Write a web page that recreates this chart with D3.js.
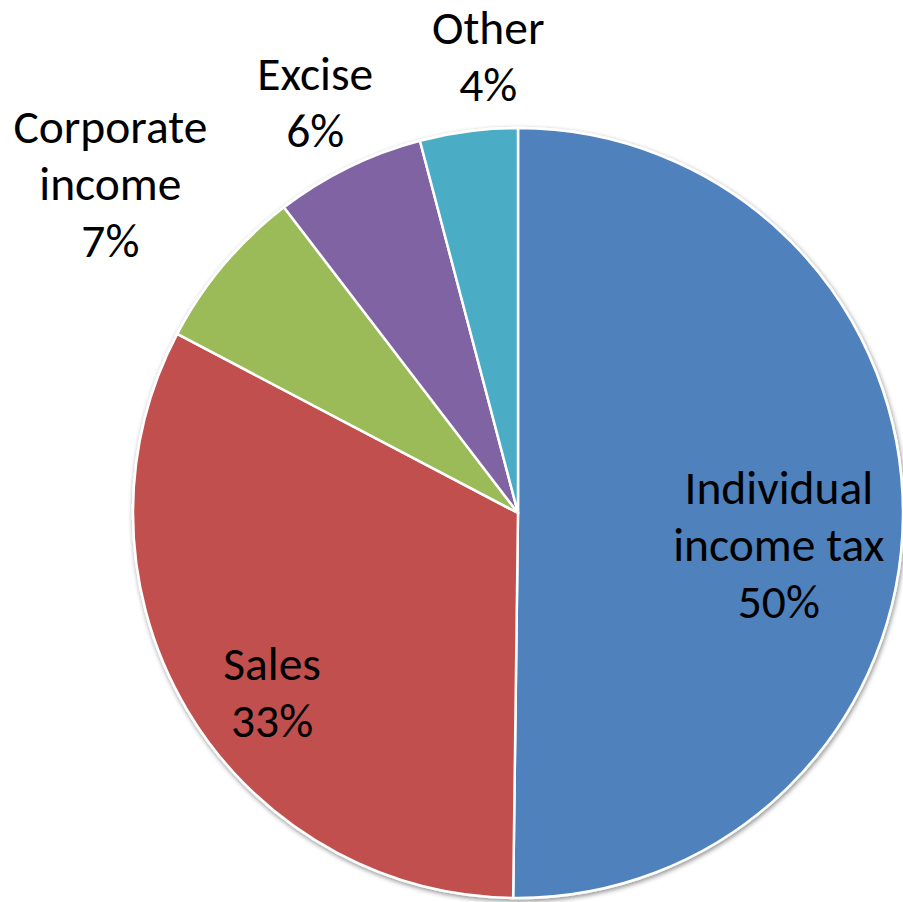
<!DOCTYPE html>
<meta charset="utf-8">
<script src="https://d3js.org/d3.v7.min.js"></script>
<style>
  body { margin: 0; background: #fff; }
  text { font-family: Carlito, Calibri, "Liberation Sans", sans-serif; fill: #000; }
</style>
<div id="chart"></div>
<script>

  // data
  var categories = ["Individual income tax", "Sales", "Corporate income", "Excise", "Other"];
  var labelLines = [["Individual", "income tax"], ["Sales"], ["Corporate", "income"], ["Excise"], ["Other"]];
  var values = [50.2, 32.5, 6.9, 6.3, 4.1];
  var colors = ["#4F81BD", "#C0504D", "#9BBB59", "#8064A2", "#4BACC6"];

  // layout
  var width = 903, height = 902;
  var cx = 518, cy = 513, radius = 385;
  var fontSize = 47.5, lineH = 57;

  // labels inside or outside, with small nudges
  var inside = [true, true, false, false, false];
  var nudge = {
    "Individual income tax": [-1, 30],
    "Sales": [-21, 46],
    "Corporate income": [-30, -19],
    "Excise": [0, -5],
    "Other": [28, -8]
  };

  var svg = d3.select("#chart").append("svg")
    .attr("width", width)
    .attr("height", height);

  var defs = svg.append("defs");
  var f = defs.append("filter").attr("id", "shadow")
    .attr("x", "-10%").attr("y", "-10%").attr("width", "120%").attr("height", "120%");
  f.append("feGaussianBlur").attr("in", "SourceAlpha").attr("stdDeviation", 2.5);
  f.append("feOffset").attr("dx", 1).attr("dy", 2).attr("result", "b");
  f.append("feComponentTransfer").append("feFuncA").attr("type", "linear").attr("slope", 0.45);
  var m = f.append("feMerge");
  m.append("feMergeNode");
  m.append("feMergeNode").attr("in", "SourceGraphic");

  var data = categories.map(function(c, i) {
    return { name: c, value: values[i], lines: labelLines[i], color: colors[i], inside: inside[i] };
  });

  var pie = d3.pie().sort(null).value(function(d) { return d.value; });
  var arc = d3.arc().innerRadius(0).outerRadius(radius);
  var arcs = pie(data);

  var g = svg.append("g").attr("transform", "translate(" + cx + "," + cy + ")");

  g.append("g").attr("filter", "url(#shadow)")
    .selectAll("path")
    .data(arcs)
    .enter()
    .append("path")
      .attr("d", arc)
      .attr("fill", function(d) { return d.data.color; })
      .attr("stroke", "#fff")
      .attr("stroke-width", 2.5)
      .attr("stroke-linejoin", "round");

  // labels
  var inArc = d3.arc().innerRadius(radius * 0.68).outerRadius(radius * 0.68);

  arcs.forEach(function(d) {
    var lines = d.data.lines.concat([Math.round(d.data.value) + "%"]);
    var h = lines.length * lineH;
    var mid = (d.startAngle + d.endAngle) / 2;
    var pos;
    if (d.data.inside) {
      pos = inArc.centroid(d);
    } else {
      var ux = Math.sin(mid), uy = -Math.cos(mid);
      var w = d3.max(lines, function(l) { return l.length; }) * 44 * 0.5;
      var r = radius + 10;
      pos = [ux * r + ux * w / 2, uy * r + uy * h / 2];
    }
    var n = nudge[d.data.name];
    var x = pos[0] + n[0], y = pos[1] + n[1];

    var t = g.append("text")
      .attr("text-anchor", "middle")
      .style("font-size", fontSize + "px");
    lines.forEach(function(l, i) {
      t.append("tspan")
        .attr("x", x)
        .attr("y", y - h / 2 + (i + 0.78) * lineH)
        .text(l);
    });
  });

</script>
